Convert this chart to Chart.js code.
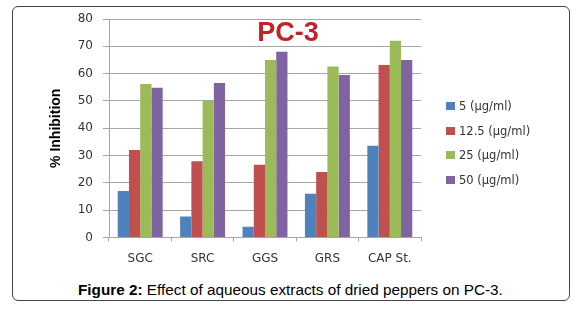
<!DOCTYPE html>
<html>
<head>
<meta charset="utf-8">
<script src="https://cdn.jsdelivr.net/npm/chart.js@4.4.1/dist/chart.umd.min.js"></script>
<style>
    body { margin: 0; background: #fff; }
    #wrap { position: relative; width: 584px; height: 313px; overflow: hidden; }
    #frame {
        position: absolute; left: 12px; top: 6px; width: 558px; height: 295px;
        box-sizing: border-box; border: 1.5px solid #444; border-radius: 6px;
    }
    #chart-box { position: absolute; left: 0; top: 0; width: 584px; height: 275px; }
    #legend { position: absolute; left: 446px; top: 99px; font: 11.5px "DejaVu Sans", sans-serif; color: #333; }
    .legend-item { height: 24.5px; display: flex; align-items: flex-start; white-space: nowrap; }
    .legend-swatch { width: 9px; height: 8px; margin: 3px 4px 0 0; }
    #caption {
        position: absolute; left: 78px; top: 281px;
        font: 15.3px "Liberation Sans", Arial, sans-serif; color: #000; white-space: nowrap;
    }
</style>
</head>
<body>
<div id="wrap">
    <div id="frame"></div>
    <div id="chart-box"><canvas id="pc3-chart" width="584" height="275"></canvas></div>
    <div id="legend"></div>
    <div id="caption"><b>Figure 2:</b> Effect of aqueous extracts of dried peppers on PC-3.</div>
</div>
<script>
const categories = ['SGC', 'SRC', 'GGS', 'GRS', 'CAP St.'];
const dose5 = [17.0, 7.7, 3.9, 16.0, 33.6];
const dose12 = [32.0, 27.9, 26.6, 24.0, 63.2];
const dose25 = [56.2, 50.0, 65.0, 62.6, 72.0];
const dose50 = [54.8, 56.6, 68.0, 59.5, 65.0];
const seriesLabels = ['5 (µg/ml)', '12.5 (µg/ml)', '25 (µg/ml)', '50 (µg/ml)'];
const seriesColors = ['#4F81BD', '#C0504D', '#9BBB59', '#8064A2'];
const yTicks = [0, 10, 20, 30, 40, 50, 60, 70, 80];

const seriesValues = [dose5, dose12, dose25, dose50];
const gridGray = '#a6a6a6';

// Draw the red "PC-3" heading inside the plot
const headingPlugin = {
    id: 'heading',
    afterDraw(chart) {
        const ctx = chart.ctx;
        ctx.save();
        ctx.font = 'bold 27px "Liberation Sans", Arial, sans-serif';
        ctx.fillStyle = '#C1232B';
        ctx.textAlign = 'center';
        ctx.textBaseline = 'middle';
        ctx.fillText('PC-3', 288, 34);
        ctx.restore();
    }
};

const ctx = document.getElementById('pc3-chart').getContext('2d');
const chart = new Chart(ctx, {
    type: 'bar',
    data: {
        labels: categories,
        datasets: seriesValues.map((vals, i) => ({
            label: seriesLabels[i],
            data: vals,
            backgroundColor: seriesColors[i],
            borderWidth: 0,
            categoryPercentage: 0.72,
            barPercentage: 1.0
        }))
    },
    options: {
        responsive: false,
        animation: false,
        layout: { padding: { left: 44, top: 19, right: 163, bottom: 0 } },
        plugins: {
            legend: { display: false },
            tooltip: { enabled: false }
        },
        scales: {
            x: {
                grid: { display: true, drawOnChartArea: false, drawTicks: true, tickLength: 4, color: gridGray },
                border: { display: true, color: gridGray },
                ticks: { color: '#333', padding: 10, font: { family: 'DejaVu Sans', size: 12 } },
                afterFit: (scale) => { scale.height = 37.5; }
            },
            y: {
                min: yTicks[0],
                max: yTicks[yTicks.length - 1],
                afterBuildTicks: (scale) => { scale.ticks = yTicks.map(v => ({ value: v })); },
                grid: { color: gridGray, tickLength: 6 },
                border: { display: true, color: gridGray },
                ticks: { color: '#333', padding: 10, font: { family: 'DejaVu Sans', size: 12 } },
                title: {
                    display: true,
                    text: '% Inhibition',
                    color: '#000',
                    padding: { top: 4, bottom: 0 },
                    font: { family: 'Liberation Sans', size: 14, weight: 'bold' }
                },
                afterFit: (scale) => { scale.width = 65; }
            }
        }
    },
    plugins: [headingPlugin]
});

// Legend built from the same series arrays
const legendEl = document.getElementById('legend');
seriesLabels.forEach((label, i) => {
    const item = document.createElement('div');
    item.className = 'legend-item';
    const sw = document.createElement('span');
    sw.className = 'legend-swatch';
    sw.style.background = seriesColors[i];
    const txt = document.createElement('span');
    txt.textContent = label;
    item.appendChild(sw);
    item.appendChild(txt);
    legendEl.appendChild(item);
});
</script>
</body>
</html>
